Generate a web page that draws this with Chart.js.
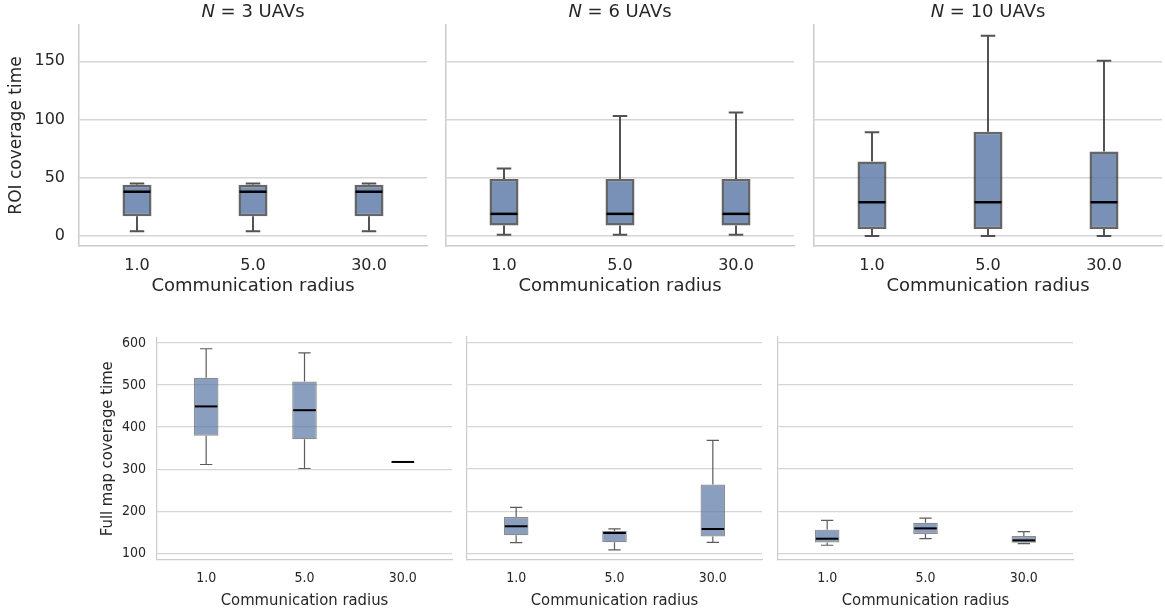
<!DOCTYPE html>
<html>
<head>
<meta charset="utf-8">
<title>Coverage time vs communication radius</title>
<script src="https://cdn.jsdelivr.net/npm/chart.js@4.4.1/dist/chart.umd.min.js"></script>
<style>
  html, body { margin: 0; padding: 0; background: #fff; }
  #wrap { position: relative; width: 1165px; height: 613px; overflow: hidden; }
  #wrap canvas { position: absolute; }
</style>
</head>
<body>
<div id="wrap">
  <canvas id="roi0"></canvas>
  <canvas id="roi1"></canvas>
  <canvas id="roi2"></canvas>
  <canvas id="map0"></canvas>
  <canvas id="map1"></canvas>
  <canvas id="map2"></canvas>
</div>
<script>
// categories
const radii = ['1.0', '5.0', '30.0'];
const uavCounts = [3, 6, 10];

// ROI coverage time, one inner list per N (3, 6, 10 UAVs)
const roiLow = [[4, 4, 4], [1, 1, 1], [0, 0, 0]];
const roiQ1 = [[17, 17, 17], [9, 9, 9], [6, 6, 6]];
const roiMedian = [[38, 38, 38], [19, 19, 19], [29, 29, 29]];
const roiQ3 = [[44, 44, 44], [49, 49, 49], [64, 89.5, 72.5]];
const roiHigh = [[45, 45, 45], [58, 103, 106], [89, 172, 150.5]];
const roiTicks = [0, 50, 100, 150];
const roiRange = [-8.6, 181.2];

// full map coverage time
const mapLow = [[311, 301.5, 316], [125, 108, 126], [119, 134.5, 123]];
const mapQ1 = [[379.5, 371, 316.5], [143, 126, 140], [125.5, 145.5, 125]];
const mapMedian = [[449, 440, 317], [164, 148, 157.5], [134.5, 159, 130.5]];
const mapQ3 = [[517, 508, 317.5], [186, 153, 263], [156, 172.5, 141]];
const mapHigh = [[586, 576, 318], [209, 158, 368], [178, 183.5, 151.5]];
const mapTicks = [100, 200, 300, 400, 500, 600];
const mapRange = [84, 613];

const textColor = '#262626';

const topStyle = {
  family: "'DejaVu Sans', sans-serif",
  tickSize: 16, labelSize: 18, yLabelSize: 17,
  tickPadX: 10, tickPadY: 14, xTitlePad: 8, yTitlePad: 6,
  fill: 'rgba(88, 117, 164, 0.8)', edge: 'rgba(64, 64, 64, 0.8)', edgeWidth: 2.5,
  whisker: 'rgba(64, 64, 64, 0.9)', whiskerWidth: 2, medianWidth: 2.5,
  gridWidth: 1.5
};

const bottomStyle = {
  family: "'DejaVu Sans Condensed', 'Liberation Sans Narrow', 'DejaVu Sans', sans-serif",
  tickSize: 14, labelSize: 16.5, yLabelSize: 16.5,
  tickPadX: 10, tickPadY: 11, xTitlePad: 2, yTitlePad: 8,
  fill: 'rgba(88, 117, 164, 0.7)', edge: 'rgba(64, 64, 64, 0.6)', edgeWidth: 1.2,
  whisker: 'rgba(64, 64, 64, 0.85)', whiskerWidth: 1.2, medianWidth: 2,
  gridWidth: 1.2
};

function makePanel(id, p, s) {
  const canvas = document.getElementById(id);
  canvas.width = p.width;
  canvas.height = p.height;
  canvas.style.left = p.left + 'px';
  canvas.style.top = p.top + 'px';

  // whiskers, caps and median drawn on the chart's own scales
  const boxWhiskers = {
    id: 'boxWhiskers',
    afterDatasetsDraw(chart) {
      const ctx = chart.ctx;
      const yScale = chart.scales.y;
      const meta = chart.getDatasetMeta(0);
      ctx.save();
      meta.data.forEach((bar, i) => {
        const x = bar.x;
        const cap = bar.width / 4;
        const yLo = yScale.getPixelForValue(p.low[i]);
        const yQ1 = yScale.getPixelForValue(p.q1[i]);
        const yQ3 = yScale.getPixelForValue(p.q3[i]);
        const yHi = yScale.getPixelForValue(p.high[i]);
        const yMed = yScale.getPixelForValue(p.median[i]);
        ctx.strokeStyle = s.whisker;
        ctx.lineWidth = s.whiskerWidth;
        ctx.beginPath();
        ctx.moveTo(x, yQ1); ctx.lineTo(x, yLo);
        ctx.moveTo(x, yQ3); ctx.lineTo(x, yHi);
        ctx.moveTo(x - cap, yLo); ctx.lineTo(x + cap, yLo);
        ctx.moveTo(x - cap, yHi); ctx.lineTo(x + cap, yHi);
        ctx.stroke();
        ctx.strokeStyle = '#000';
        ctx.lineWidth = s.medianWidth;
        ctx.beginPath();
        ctx.moveTo(x - bar.width / 2 + 1, yMed);
        ctx.lineTo(x + bar.width / 2 - 1, yMed);
        ctx.stroke();
      });
      ctx.restore();
    }
  };

  // "N = 3 UAVs" with an italic N
  const panelTitle = {
    id: 'panelTitle',
    afterDraw(chart) {
      if (!p.n) return;
      const { ctx, chartArea } = chart;
      const italic = `italic ${s.labelSize}px ${s.family}`;
      const plain = `${s.labelSize}px ${s.family}`;
      const rest = ` = ${p.n} UAVs`;
      ctx.save();
      ctx.fillStyle = textColor;
      ctx.textBaseline = 'middle';
      ctx.textAlign = 'left';
      ctx.font = italic;
      const wN = ctx.measureText('N').width;
      ctx.font = plain;
      const wR = ctx.measureText(rest).width;
      const x0 = (chartArea.left + chartArea.right) / 2 - (wN + wR) / 2;
      ctx.font = italic;
      ctx.fillText('N', x0, 12);
      ctx.font = plain;
      ctx.fillText(rest, x0 + wN, 12);
      ctx.restore();
    }
  };

  return new Chart(canvas, {
    type: 'bar',
    data: {
      labels: radii,
      datasets: [{
        data: p.q1.map((v, i) => [v, p.q3[i]]),
        backgroundColor: s.fill,
        borderColor: s.edge,
        borderWidth: s.edgeWidth,
        borderSkipped: false,
        barPercentage: 0.25,
        categoryPercentage: 1
      }]
    },
    options: {
      responsive: false,
      animation: false,
      devicePixelRatio: 1,
      layout: { padding: { top: p.padTop, right: p.padRight, left: 0, bottom: 0 } },
      plugins: { legend: { display: false }, tooltip: { enabled: false } },
      scales: {
        x: {
          grid: { display: false, drawTicks: false },
          border: { color: '#cccccc', width: s.gridWidth },
          ticks: { color: textColor, padding: s.tickPadX, font: { family: s.family, size: s.tickSize } },
          title: {
            display: true, text: 'Communication radius', color: textColor,
            font: { family: s.family, size: s.labelSize },
            padding: { top: 0, bottom: s.xTitlePad }
          },
          afterFit: sc => { sc.height = p.xH; }
        },
        y: {
          min: p.range[0],
          max: p.range[1],
          grid: { color: '#d5d5d5', lineWidth: s.gridWidth, drawTicks: false },
          border: { color: '#cccccc', width: s.gridWidth },
          ticks: {
            display: p.showY, color: textColor, padding: s.tickPadY,
            font: { family: s.family, size: s.tickSize }
          },
          afterBuildTicks: sc => { sc.ticks = p.ticks.map(v => ({ value: v })); },
          title: {
            display: !!p.yTitle, text: p.yTitle || '', color: textColor,
            font: { family: s.family, size: s.yLabelSize },
            padding: { top: s.yTitlePad, bottom: 0 }
          },
          afterFit: sc => { sc.width = p.yW; }
        }
      }
    },
    plugins: [boxWhiskers, panelTitle]
  });
}

const topLefts = [0, 436, 804];
const topAxisW = [79, 10, 10];
const bottomLefts = [90, 457, 768];
const bottomAxisW = [67, 10, 10];

uavCounts.forEach((n, k) => {
  makePanel('roi' + k, {
    left: topLefts[k], top: 0, width: topAxisW[k] + 348 + 4, height: 305,
    yW: topAxisW[k], xH: 59, padTop: 25, padRight: 4,
    low: roiLow[k], q1: roiQ1[k], median: roiMedian[k], q3: roiQ3[k], high: roiHigh[k],
    ticks: roiTicks, range: roiRange, showY: k === 0,
    yTitle: k === 0 ? 'ROI coverage time' : null, n: n
  }, topStyle);

  makePanel('map' + k, {
    left: bottomLefts[k], top: 318, width: bottomAxisW[k] + 295 + 4, height: 295,
    yW: bottomAxisW[k], xH: 53, padTop: 19, padRight: 4,
    low: mapLow[k], q1: mapQ1[k], median: mapMedian[k], q3: mapQ3[k], high: mapHigh[k],
    ticks: mapTicks, range: mapRange, showY: k === 0,
    yTitle: k === 0 ? 'Full map coverage time' : null, n: null
  }, bottomStyle);
});
</script>
</body>
</html>
